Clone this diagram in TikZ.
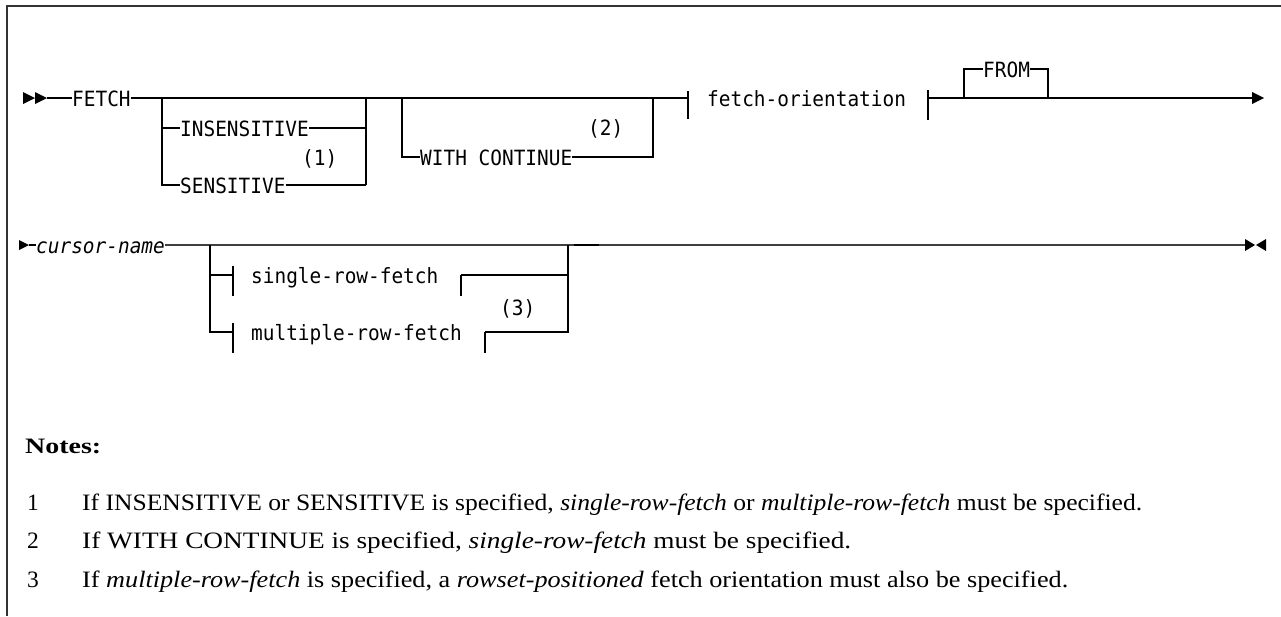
\documentclass[tikz,border=0pt]{standalone}
\usepackage{fontspec}
\usepackage{graphicx}
\setmainfont{Liberation Serif}
\newfontfamily\synfont[FakeStretch=0.925]{DejaVu Sans Mono}
\begin{document}
\begin{tikzpicture}[x=1pt,y=-1pt,
  syn/.style={font=\synfont\fontsize{21}{24}\selectfont, inner sep=0pt, anchor=base west},
  rail/.style={line width=1.1pt, black},
  tip/.style={fill=black},
  note/.style={font=\fontsize{23.5}{27}\selectfont, inner sep=0pt, anchor=base west},
  frame/.style={line width=1.5pt, black!80}]
\useasboundingbox (0,0) rectangle (1281,616);
% frame
\coordinate (fTL) at (7,6);
\coordinate (fTR) at (1281,6);
\coordinate (fBL) at (7,616);
\draw[frame] (fTR) -- (fTL) -- (fBL);

% ---------- row 1 ----------
\node[syn] (fetch) at (72,106) {FETCH};
\node[syn] (insens) at (180,136) {INSENSITIVE};
\node[syn] (sens) at (180,193) {SENSITIVE};
\node[syn] (n1) at (302,165) {(1)};
\node[syn] (withc) at (420,165) {WITH CONTINUE};
\node[syn] (n2) at (588,135) {(2)};
\node[syn] (orient) at (707,106) {fetch-orientation};
\node[syn] (from) at (983,77) {FROM};

% row levels
\coordinate (r0) at (0,98);
\coordinate (r1) at (0,128);
\coordinate (r2) at (0,185);
\coordinate (rw) at (0,157);
\coordinate (rf) at (0,69);

\coordinate (s1) at (47,98);
\coordinate (a1) at (162,98);
\coordinate (a2) at (366,98);
\coordinate (b1) at (402,98);
\coordinate (b2) at (653,98);
\coordinate (t1) at (688,98);
\coordinate (t2) at (928,98);
\coordinate (c1) at (964,98);
\coordinate (c2) at (1048,98);
\coordinate (e1) at (1253,98);

\fill[tip] (23,92) -- (35,98) -- (23,104) -- cycle;
\fill[tip] (35,92) -- (47,98) -- (35,104) -- cycle;
\draw[rail] (s1) -- (fetch.west |- r0);
\draw[rail] (fetch.east |- r0) -- (t1);
\draw[rail] (688,91) -- (688,119);
\draw[rail] (928,90) -- (928,120);
\draw[rail] (t2) -- (e1);
\fill[tip] (1252,92) -- (1264,98) -- (1252,104) -- cycle;

% box 1
\draw[rail] (a1) -- (a1 |- r2) -- (sens.west |- r2);
\draw[rail] (a1 |- r1) -- (insens.west |- r1);
\draw[rail] (insens.east |- r1) -- (a2 |- r1);
\draw[rail] (sens.east |- r2) -- (a2 |- r2);
\draw[rail] (a2) -- (a2 |- r2);
% box 2
\draw[rail] (b1) -- (b1 |- rw) -- (withc.west |- rw);
\draw[rail] (withc.east |- rw) -- (b2 |- rw) -- (b2);
% FROM
\draw[rail] (c1) -- (c1 |- rf) -- (from.west |- rf);
\draw[rail] (from.east |- rf) -- (c2 |- rf) -- (c2);

% ---------- row 2 ----------
\node[syn, font=\synfont\itshape\fontsize{21}{24}\selectfont] (cursor) at (36,253) {cursor-name};
\node[syn] (single) at (251,283) {single-row-fetch};
\node[syn] (multi) at (251,340) {multiple-row-fetch};
\node[syn] (n3) at (500,315) {(3)};

\coordinate (q0) at (0,245);
\coordinate (q1) at (0,275);
\coordinate (q2) at (0,332);

\coordinate (s2) at (29,245);
\coordinate (g1) at (210,245);
\coordinate (g2) at (568,245);
\coordinate (k1) at (574,245);
\coordinate (k2) at (599,245);
\coordinate (e2) at (1245,245);

\fill[tip] (19,240) -- (29,245) -- (19,250) -- cycle;
\draw[rail] (s2) -- (cursor.west |- q0);
\draw[rail, black!75] (cursor.east |- q0) -- (e2);
\draw[line width=1.6pt, black] (k1) -- (k2);
\fill[tip] (1245,239) -- (1255,245) -- (1245,251) -- cycle;
\fill[tip] (1266,239) -- (1256,245) -- (1266,251) -- cycle;

% box 3
\draw[rail] (g1) -- (g1 |- q2) -- (233,332);
\draw[rail] (g1 |- q1) -- (233,275);
\draw[rail] (233,266) -- (233,296);
\draw[rail] (233,323) -- (233,353);
\draw[rail] (461,275) -- (461,296);
\draw[rail] (485,332) -- (485,353);
\draw[rail] (461,275) -- (g2 |- q1);
\draw[rail] (485,332) -- (g2 |- q2) -- (g2);

% ---------- notes ----------
\node[note, font=\bfseries\fontsize{22}{26}\selectfont] (notes) at (25,453) {\resizebox{76pt}{\height}{Notes:}};
\node[note] (m1) at (27,510) {1};
\node[note] (m2) at (27,548) {2};
\node[note] (m3) at (27,587) {3};
\node[note] (l1) at (82,510) {\resizebox{1060pt}{\height}{If INSENSITIVE or SENSITIVE is specified, \textit{single-row-fetch} or \textit{multiple-row-fetch} must be specified.}};
\node[note] (l2) at (82,548) {\resizebox{769pt}{\height}{If WITH CONTINUE is specified, \textit{single-row-fetch} must be specified.}};
\node[note] (l3) at (82,587) {\resizebox{986pt}{\height}{If \textit{multiple-row-fetch} is specified, a \textit{rowset-positioned} fetch orientation must also be specified.}};
\end{tikzpicture}
\end{document}
